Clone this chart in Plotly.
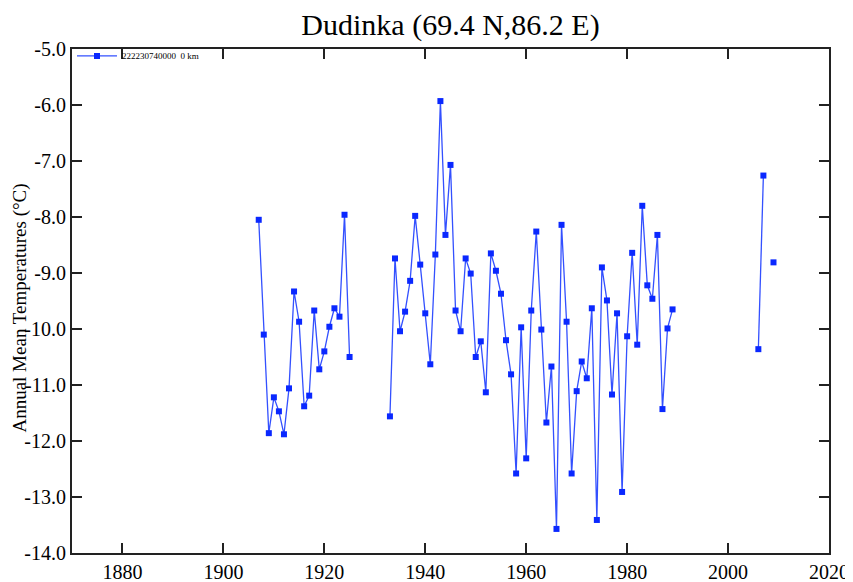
import plotly.graph_objects as go

years = (list(range(1907, 1926)) + [1926] + list(range(1933, 1990)) + [1990]
         + [2006, 2007, 2008, 2009])
temps = [-8.05, -10.1, -11.86, -11.22, -11.47, -11.88, -11.06, -9.33, -9.87, -11.38,
         -11.19, -9.67, -10.72, -10.4, -9.96, -9.63, -9.78, -7.96, -10.5,
         None,
         -11.56, -8.74, -10.04, -9.69, -9.14, -7.98, -8.85, -9.72, -10.63, -8.67,
         -5.93, -8.32, -7.07, -9.67, -10.04, -8.74, -9.01, -10.5, -10.22, -11.13,
         -8.65, -8.96, -9.37, -10.2, -10.81, -12.58, -9.97, -12.31, -9.67, -8.26,
         -10.01, -11.67, -10.67, -13.57, -8.14, -9.87, -12.58, -11.11, -10.58, -10.88,
         -9.63, -13.41, -8.9, -9.49, -11.17, -9.72, -12.91, -10.13, -8.64, -10.28,
         -7.8, -9.22, -9.46, -8.32, -11.43, -9.99, -9.65,
         None,
         -10.36, -7.26, None, -8.81]

x_ticks = list(range(1880, 2021, 20))
y_ticks = [-5.0, -6.0, -7.0, -8.0, -9.0, -10.0, -11.0, -12.0, -13.0, -14.0]
y_tick_text = ["%.1f" % v for v in y_ticks]
series_name = "222230740000  0 km"

serif = "Liberation Serif"

fig = go.Figure()
fig.add_trace(go.Scatter(
    x=years, y=temps, mode="lines+markers", name=series_name,
    connectgaps=False,
    line=dict(color="#3350ff", width=1.3),
    marker=dict(symbol="square", size=6, color="#0a28ff"),
))

axis_common = dict(
    showline=True, linecolor="#222222", linewidth=2, mirror="ticks",
    ticks="inside", tickcolor="#222222", tickwidth=1.5, ticklen=10,
    showgrid=False, zeroline=False, automargin=False,
    tickfont=dict(family=serif, size=20, color="black"),
)

# page body has an 8px margin, so the figure is sized to fit the window
fig.update_layout(
    width=845, height=574,
    margin=dict(l=64, r=24, t=41, b=29, autoexpand=False),
    paper_bgcolor="white", plot_bgcolor="white",
    title=dict(text="Dudinka (69.4 N,86.2 E)", xref="paper", x=0.5, xanchor="center",
               y=1 - 16 / 574, yanchor="middle",
               font=dict(family=serif, size=30, color="black")),
    xaxis=dict(range=[1870, 2020], tickvals=x_ticks, **axis_common),
    yaxis=dict(range=[-14, -5], tickvals=y_ticks, ticktext=y_tick_text, **axis_common),
    showlegend=True,
    legend=dict(x=0.0, y=1.015, xanchor="left", yanchor="top", bgcolor="rgba(0,0,0,0)",
                font=dict(family=serif, size=9, color="black"), itemwidth=40),
    annotations=[dict(text="Annual Mean Temperatures (°C)", textangle=-90,
                      xref="paper", yref="paper", x=(20 - 72) / 757, y=0.485,
                      xanchor="center", yanchor="middle", showarrow=False,
                      font=dict(family=serif, size=19, color="black"))],
)

fig.write_html("out.html")
